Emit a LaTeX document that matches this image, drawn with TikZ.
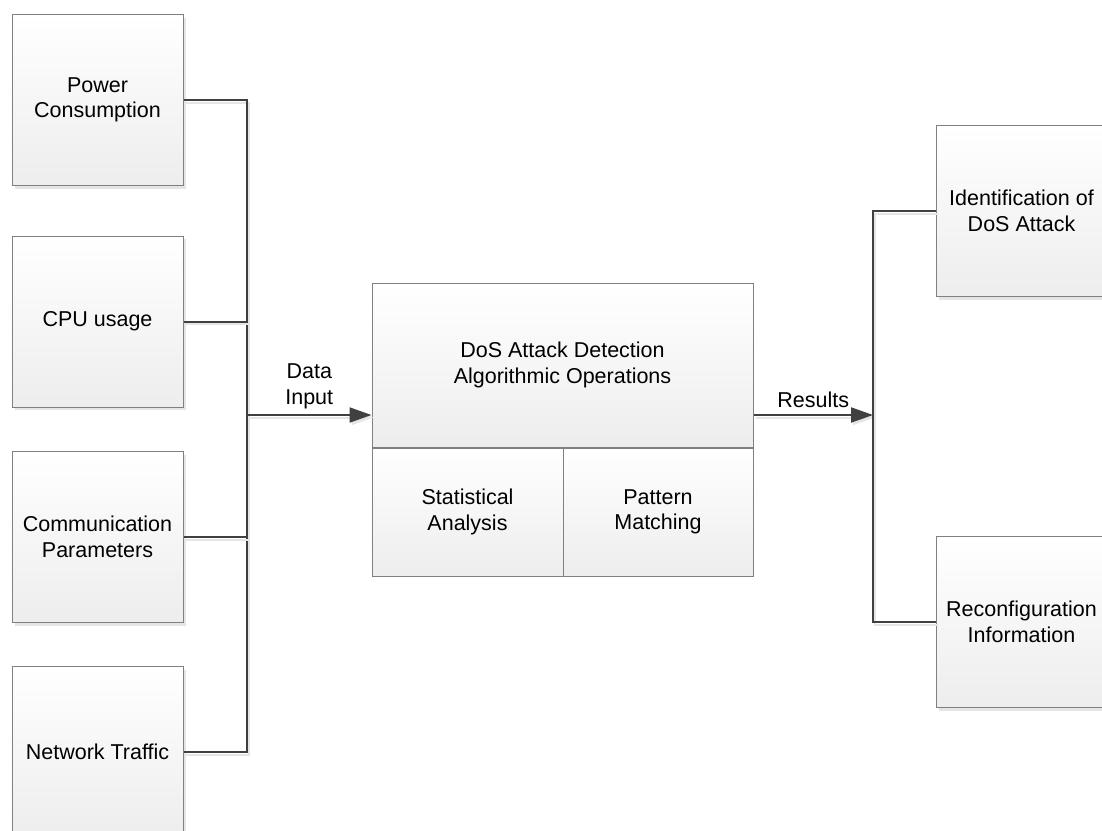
\documentclass[tikz,border=0pt]{standalone}
\usepackage{fontspec}
\setmainfont{Liberation Sans}
\usepackage{tikz}
\usetikzlibrary{arrows.meta}
\usetikzlibrary{shadows}
\tikzset{>={Triangle[length=22pt,width=15pt]}}
\tikzset{
  block/.style={draw=black!50, line width=1pt, shade, top color=white, bottom color=black!7,
    minimum width=171pt, minimum height=171pt, align=center, inner sep=2pt,
    drop shadow={shadow xshift=3pt, shadow yshift=-3pt, fill=black!10, opacity=1}},
  cell/.style={draw=black!50, line width=1pt, shade, top color=white, bottom color=black!7,
    align=center, inner sep=2pt},
  wire/.style={draw=black!75, line width=2pt,
    preaction={draw=black!10, line width=2pt, transform canvas={shift={(2pt,-2.5pt)}}}},
  txt/.style={font=\fontsize{21.5}{25.5}\selectfont}
}
\begin{document}
\begin{tikzpicture}[x=1pt, y=-1pt, every node/.append style={txt}]
                \useasboundingbox (0,0) rectangle (1102,830);

                % inputs
                \node[block] (power) at (97.5,100) {Power\\Consumption};
                \node[block] (cpu) at (97.5,321.5) {CPU usage};
                \node[block] (comm) at (97.5,537) {Communication\\Parameters};
                \node[block] (traffic) at (97.5,752) {Network Traffic};

                % detection block
                \node[cell, minimum width=381pt, minimum height=164pt] (detect) at (562.5,365) {DoS Attack Detection\\Algorithmic Operations};
                \node[cell, minimum width=191pt, minimum height=128pt, anchor=north west] (stat) at (detect.south west) {Statistical\\Analysis};
                \node[cell, minimum width=190pt, minimum height=128pt, anchor=north east] (pattern) at (detect.south east) {Pattern\\Matching};

                % outputs
                \node[block] (ident) at (1021.5,211) {Identification of\\DoS Attack};
                \node[block] (reconf) at (1021.5,622) {Reconfiguration\\Information};

                \coordinate (inbus) at (247,415);
                \coordinate (outbus) at (873,415);

                % inputs to bus
                \draw[wire] (power.east) -| (inbus) |- (traffic.east);
                \draw[wire] (cpu.east) -- (cpu.east -| inbus);
                \draw[wire] (comm.east) -- (comm.east -| inbus);
                % bus to detection
                \draw[wire,->] (inbus) -- node[above, align=center, yshift=2pt] {Data\\Input} (detect.west |- inbus);
                % detection to outputs
                \draw[wire,->] (detect.east |- outbus) -- node[above, yshift=3pt] {Results} (outbus);
                \draw[wire] (ident.west) -| (outbus) |- (reconf.west);
\end{tikzpicture}
\end{document}
